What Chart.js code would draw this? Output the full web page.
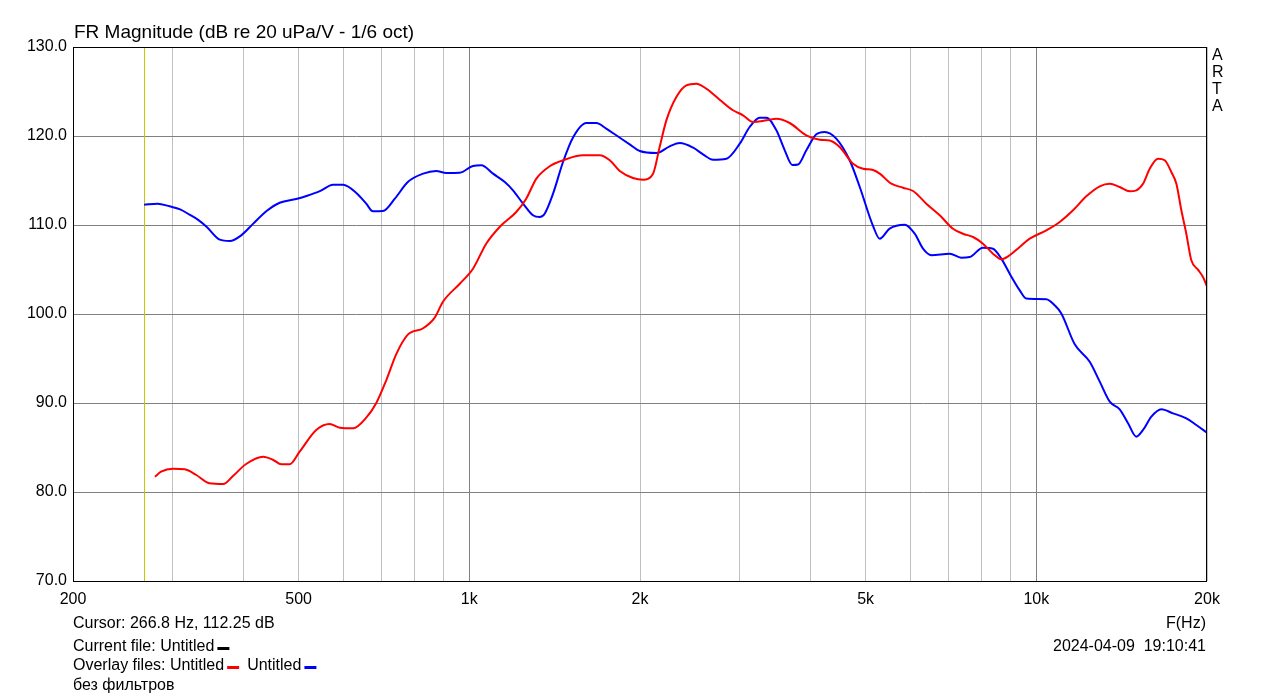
<!DOCTYPE html>
<html>
<head>
<meta charset="utf-8">
<script src="https://cdn.jsdelivr.net/npm/chart.js"></script>
<style>
  body { margin: 0; background: #fff; }
  #wrap { width: 1279px; height: 699px; }
</style>
</head>
<body>
<div id="wrap"><canvas id="fr" width="1279" height="699"></canvas></div>
<script>
// red overlay (Untitled)
const redFreq = [279,286,300,315,330,348,368,383,404,433,451,466,482,502,537,567,591,624,658,685,
  714,743,779,829,869,899,962,1015,1071,1131,1210,1260,1313,1386,1463,1587,1698,1769,1842,1944,
  2025,2109,2166,2226,2318,2414,2514,2618,2764,2918,3039,3165,3341,3480,3673,3930,4150,4322,4500,4750,
  4948,5152,5294,5550,5818,6062,6397,6756,7129,7425,7736,8052,8387,8675,8975,9348,9736,10416,10998,11608,
  12250,12938,13474,14030,14614,15010,15424,15850,16394,16844,17300,17660,18022,18388,18766,19282,19675,20000];
const redDb = [81.72,82.28,82.62,82.55,81.91,80.98,80.9,81.8,83.15,83.97,83.6,83.11,83.11,84.53,86.97,87.64,87.23,87.16,88.35,89.97,
  92.58,95.47,97.68,98.4,99.6,101.4,103.4,105.09,107.9,109.78,111.46,112.96,115.21,116.6,117.27,117.83,117.83,117.27,116.07,115.28,
  115.09,115.77,118.76,121.76,124.38,125.69,125.88,125.32,124.08,122.89,122.33,121.57,121.76,121.94,121.46,120.08,119.58,119.5,118.76,116.89,
  116.33,116.18,115.77,114.64,114.19,113.82,112.4,111.09,109.58,109.02,108.65,107.9,106.78,106.15,106.6,107.53,108.46,109.4,110.34,111.65,
  113.22,114.35,114.64,114.27,113.79,113.9,114.64,116.33,117.45,117.27,115.96,114.64,111.65,109.02,106.03,104.98,104.16,103.11];

// blue overlay (Untitled)
const blueFreq = [267,282,296,309,321,332,344,363,378,396,415,439,463,495,516,545,575,599,632,658,
  676,704,739,779,829,874,911,962,1015,1050,1101,1155,1194,1244,1295,1331,1358,1405,1463,1523,
  1608,1675,1744,1816,1918,1998,2137,2256,2350,2482,2583,2690,2840,2999,3122,3252,3341,3480,3600,3713,
  3800,3930,4093,4234,4438,4686,4882,5152,5294,5512,5860,6103,6312,6530,7036,7373,7630,8052,8387,8675,
  8975,9348,9602,10416,10778,11069,11688,12421,12938,13474,14030,14514,15010,15424,15955,16616,17419,18388,19148,20000];
const blueDb = [112.28,112.4,112.1,111.76,111.16,110.6,109.8,108.35,108.2,108.84,110.1,111.57,112.5,112.92,113.26,113.8,114.53,114.53,113.6,112.4,
  111.54,111.57,112.96,114.83,115.77,116.07,115.84,115.87,116.63,116.7,115.77,114.83,113.9,112.4,111.09,110.9,111.27,113.52,117.08,119.81,
  121.46,121.46,120.82,120.08,119.06,118.31,118.09,118.84,119.21,118.69,117.94,117.34,117.45,119.14,121.01,122.06,122.06,120.64,118.39,116.74,
  116.8,118.39,120.19,120.45,119.7,117.27,114.27,109.9,108.46,109.6,110.04,109.03,107.34,106.6,106.78,106.33,106.4,107.45,107.34,106.22,
  104.53,102.66,101.74,101.66,100.97,100.06,96.6,94.64,92.4,90.15,89.29,87.72,86.22,86.97,88.46,89.29,88.84,88.28,87.53,86.67];

// axes
const gridFreqs = [200,300,400,500,600,700,800,900,1000,2000,3000,4000,5000,6000,7000,8000,9000,10000,20000];
const xLabelValues = [200,500,1000,2000,5000,10000,20000];
const xLabelTexts = ['200','500','1k','2k','5k','10k','20k'];
const majorFreqs = [1000,10000];
const cursorFreq = 266.8;

const FONT = 'Liberation Sans, Arial, sans-serif';

function pairs(f, d) {
    return f.map((v, i) => ({x: v, y: d[i]}));
}

const artaText = {
    id: 'artaText',
    beforeDraw(chart) {
        const ctx = chart.ctx;
        ctx.save();
        ctx.fillStyle = '#fff';
        ctx.fillRect(0, 0, chart.width, chart.height);
        ctx.restore();
    },
    beforeDatasetsDraw(chart) {
        // cursor line
        const {ctx, chartArea: a, scales: {x}} = chart;
        const px = Math.round(x.getPixelForValue(cursorFreq)) + 0.5;
        ctx.save();
        ctx.strokeStyle = '#c8c800';
        ctx.lineWidth = 1;
        ctx.beginPath();
        ctx.moveTo(px, a.top);
        ctx.lineTo(px, a.bottom);
        ctx.stroke();
        ctx.restore();
    },
    afterDraw(chart) {
        const {ctx, chartArea: a} = chart;
        ctx.save();
        ctx.strokeStyle = '#000';
        ctx.lineWidth = 1;
        ctx.strokeRect(a.left + 0.5, a.top + 0.5, a.right - a.left - 1, a.bottom - a.top);

        ctx.fillStyle = '#000';
        ctx.textBaseline = 'middle';
        ctx.textAlign = 'left';
        ctx.font = '19px ' + FONT;
        ctx.fillText('FR Magnitude (dB re 20 uPa/V - 1/6 oct)', 74, 33);

        ctx.font = '16px ' + FONT;
        ['A', 'R', 'T', 'A'].forEach((c, i) => ctx.fillText(c, 1212, 56 + i * 17));

        ctx.fillText('Cursor: 266.8 Hz, 112.25 dB', 73, 624);
        let t = 'Current file: Untitled';
        ctx.fillText(t, 73, 647);
        let w = ctx.measureText(t).width;
        ctx.fillRect(73 + w + 3, 647, 12, 3);

        t = 'Overlay files: Untitled';
        ctx.fillText(t, 73, 666);
        w = ctx.measureText(t).width;
        ctx.fillStyle = '#ff0000';
        ctx.fillRect(73 + w + 3, 666, 12, 3);
        const x2 = 73 + w + 23;
        ctx.fillStyle = '#000';
        ctx.fillText('Untitled', x2, 666);
        const w2 = ctx.measureText('Untitled').width;
        ctx.fillStyle = '#0000ff';
        ctx.fillRect(x2 + w2 + 3, 666, 12, 3);

        ctx.fillStyle = '#000';
        ctx.fillText('без фильтров', 73, 686);

        ctx.textAlign = 'right';
        ctx.fillText('F(Hz)', 1206, 624);
        ctx.fillText('2024-04-09  19:10:41', 1206, 647);
        ctx.restore();
    }
};

new Chart(document.getElementById('fr'), {
    type: 'line',
    data: {
        datasets: [{
            label: 'Untitled red',
            data: pairs(redFreq, redDb),
            borderColor: '#ff0000',
            backgroundColor: 'transparent',
            borderWidth: 2,
            pointRadius: 0,
            cubicInterpolationMode: 'monotone'
        },
        {
            label: 'Untitled blue',
            data: pairs(blueFreq, blueDb),
            borderColor: '#0000ff',
            backgroundColor: 'transparent',
            borderWidth: 2,
            pointRadius: 0,
            cubicInterpolationMode: 'monotone'
        }]
    },
    options: {
        responsive: false,
        animation: false,
        layout: { padding: { left: 0, top: 47, right: 72, bottom: 0 } },
        plugins: {
            legend: { display: false },
            tooltip: { enabled: false }
        },
        scales: {
            x: {
                type: 'logarithmic',
                min: 200,
                max: 20000,
                afterBuildTicks: (scale) => {
                    scale.ticks = gridFreqs.map(v => ({ value: v }));
                },
                afterFit: (scale) => { scale.height = 118; },
                grid: {
                    drawTicks: false,
                    color: (c) => (c.tick && majorFreqs.includes(c.tick.value)) ? '#808080' : '#c0c0c0'
                },
                border: { display: false },
                ticks: {
                    autoSkip: false,
                    maxRotation: 0,
                    padding: 9,
                    color: '#000',
                    font: { family: FONT, size: 16 },
                    callback: (v) => {
                        const i = xLabelValues.indexOf(v);
                        return i >= 0 ? xLabelTexts[i] : '';
                    }
                }
            },
            y: {
                min: 70,
                max: 130,
                afterFit: (scale) => { scale.width = 73; },
                grid: { drawTicks: false, color: '#808080' },
                border: { display: false },
                ticks: {
                    stepSize: 10,
                    padding: 6,
                    color: '#000',
                    font: { family: FONT, size: 16 },
                    callback: (v) => v.toFixed(1)
                }
            }
        }
    },
    plugins: [artaText]
});
</script>
</body>
</html>
